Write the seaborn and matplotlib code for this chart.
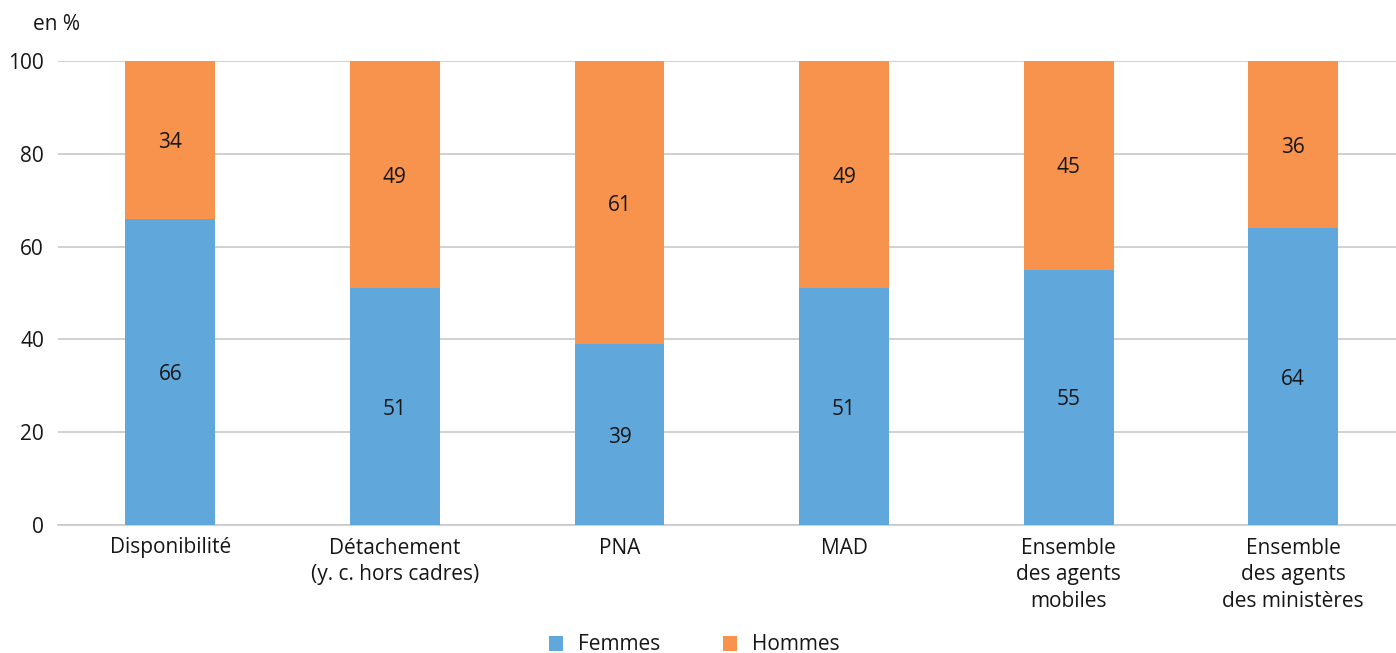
import matplotlib
matplotlib.use("Agg")
import matplotlib.pyplot as plt
import seaborn as sns
import pandas as pd
from matplotlib.patches import Patch

categories = [
    "Disponibilité",
    "Détachement\n(y. c. hors cadres)",
    "PNA",
    "MAD",
    "Ensemble\ndes agents\nmobiles",
    "Ensemble\ndes agents\ndes ministères",
]
femmes = [66, 51, 39, 51, 55, 64]
hommes = [34, 49, 61, 49, 45, 36]
yticks = [0, 20, 40, 60, 80, 100]

BLUE = "#60A8DC"
ORANGE = "#F7934C"
GRID = "#C8C8C8"
TEXT = "#161616"
FS = 15

sns.set_theme(style="white")
plt.rcParams["font.family"] = ["Open Sans", "DejaVu Sans"]
plt.rcParams["text.color"] = TEXT

df = pd.DataFrame({
    "categorie": categories,
    "Femmes": femmes,
    "Hommes": hommes,
})
df["total"] = df["Femmes"] + df["Hommes"]

W, H = 1396, 653
fig = plt.figure(figsize=(W / 100, H / 100), dpi=100)
ax_left, ax_right = 58, 1396
ax_top, ax_bottom = 61, 525
ax = fig.add_axes([ax_left / W, 1 - ax_bottom / H,
                   (ax_right - ax_left) / W, (ax_bottom - ax_top) / H])

# stacked bars: full height in orange, women's share drawn over it in blue
sns.barplot(data=df, x="categorie", y="total", color=ORANGE, width=0.4,
            saturation=1, linewidth=0, ax=ax, zorder=3)
sns.barplot(data=df, x="categorie", y="Femmes", color=BLUE, width=0.4,
            saturation=1, linewidth=0, ax=ax, zorder=3)

for i, (f, h) in enumerate(zip(femmes, hommes)):
    ax.text(i, f / 2, f"{f}", ha="center", va="center_baseline", fontsize=FS,
            color=TEXT, zorder=4)
    ax.text(i, f + h / 2, f"{h}", ha="center", va="center_baseline",
            fontsize=FS, color=TEXT, zorder=4)

span = (ax_right - ax_left) / 224.6
ax.set_xlim(-0.5, -0.5 + span)
ax.set_ylim(0, 100)
ax.set_yticks(yticks)
ax.set_yticklabels([str(v) for v in yticks], fontsize=FS, color=TEXT)
ax.set_xticks(range(len(categories)))
ax.set_xticklabels(categories, fontsize=FS, color=TEXT, linespacing=1.35)
ax.tick_params(axis="x", length=0, pad=9)
ax.tick_params(axis="y", length=0, pad=10)
ax.set_xlabel("")
ax.set_ylabel("")

ax.yaxis.grid(True, color=GRID, linewidth=1.2, zorder=0)
ax.xaxis.grid(False)
for side in ["top", "right", "left"]:
    ax.spines[side].set_visible(False)
ax.spines["bottom"].set_color(GRID)
ax.spines["bottom"].set_linewidth(1.2)

fig.text(33 / W, 1 - 25 / H, "en %", fontsize=FS, color=TEXT,
         ha="left", va="center")

handles = [Patch(facecolor=BLUE, edgecolor="none", label="Femmes"),
           Patch(facecolor=ORANGE, edgecolor="none", label="Hommes")]
fig.legend(handles=handles, loc="center", bbox_to_anchor=(694 / W, 1 - 645 / H),
           ncol=2, frameon=False, fontsize=FS, handlelength=0.7,
           handleheight=0.7, handletextpad=0.7, columnspacing=3.0)

fig.savefig("out.png", dpi=100)
